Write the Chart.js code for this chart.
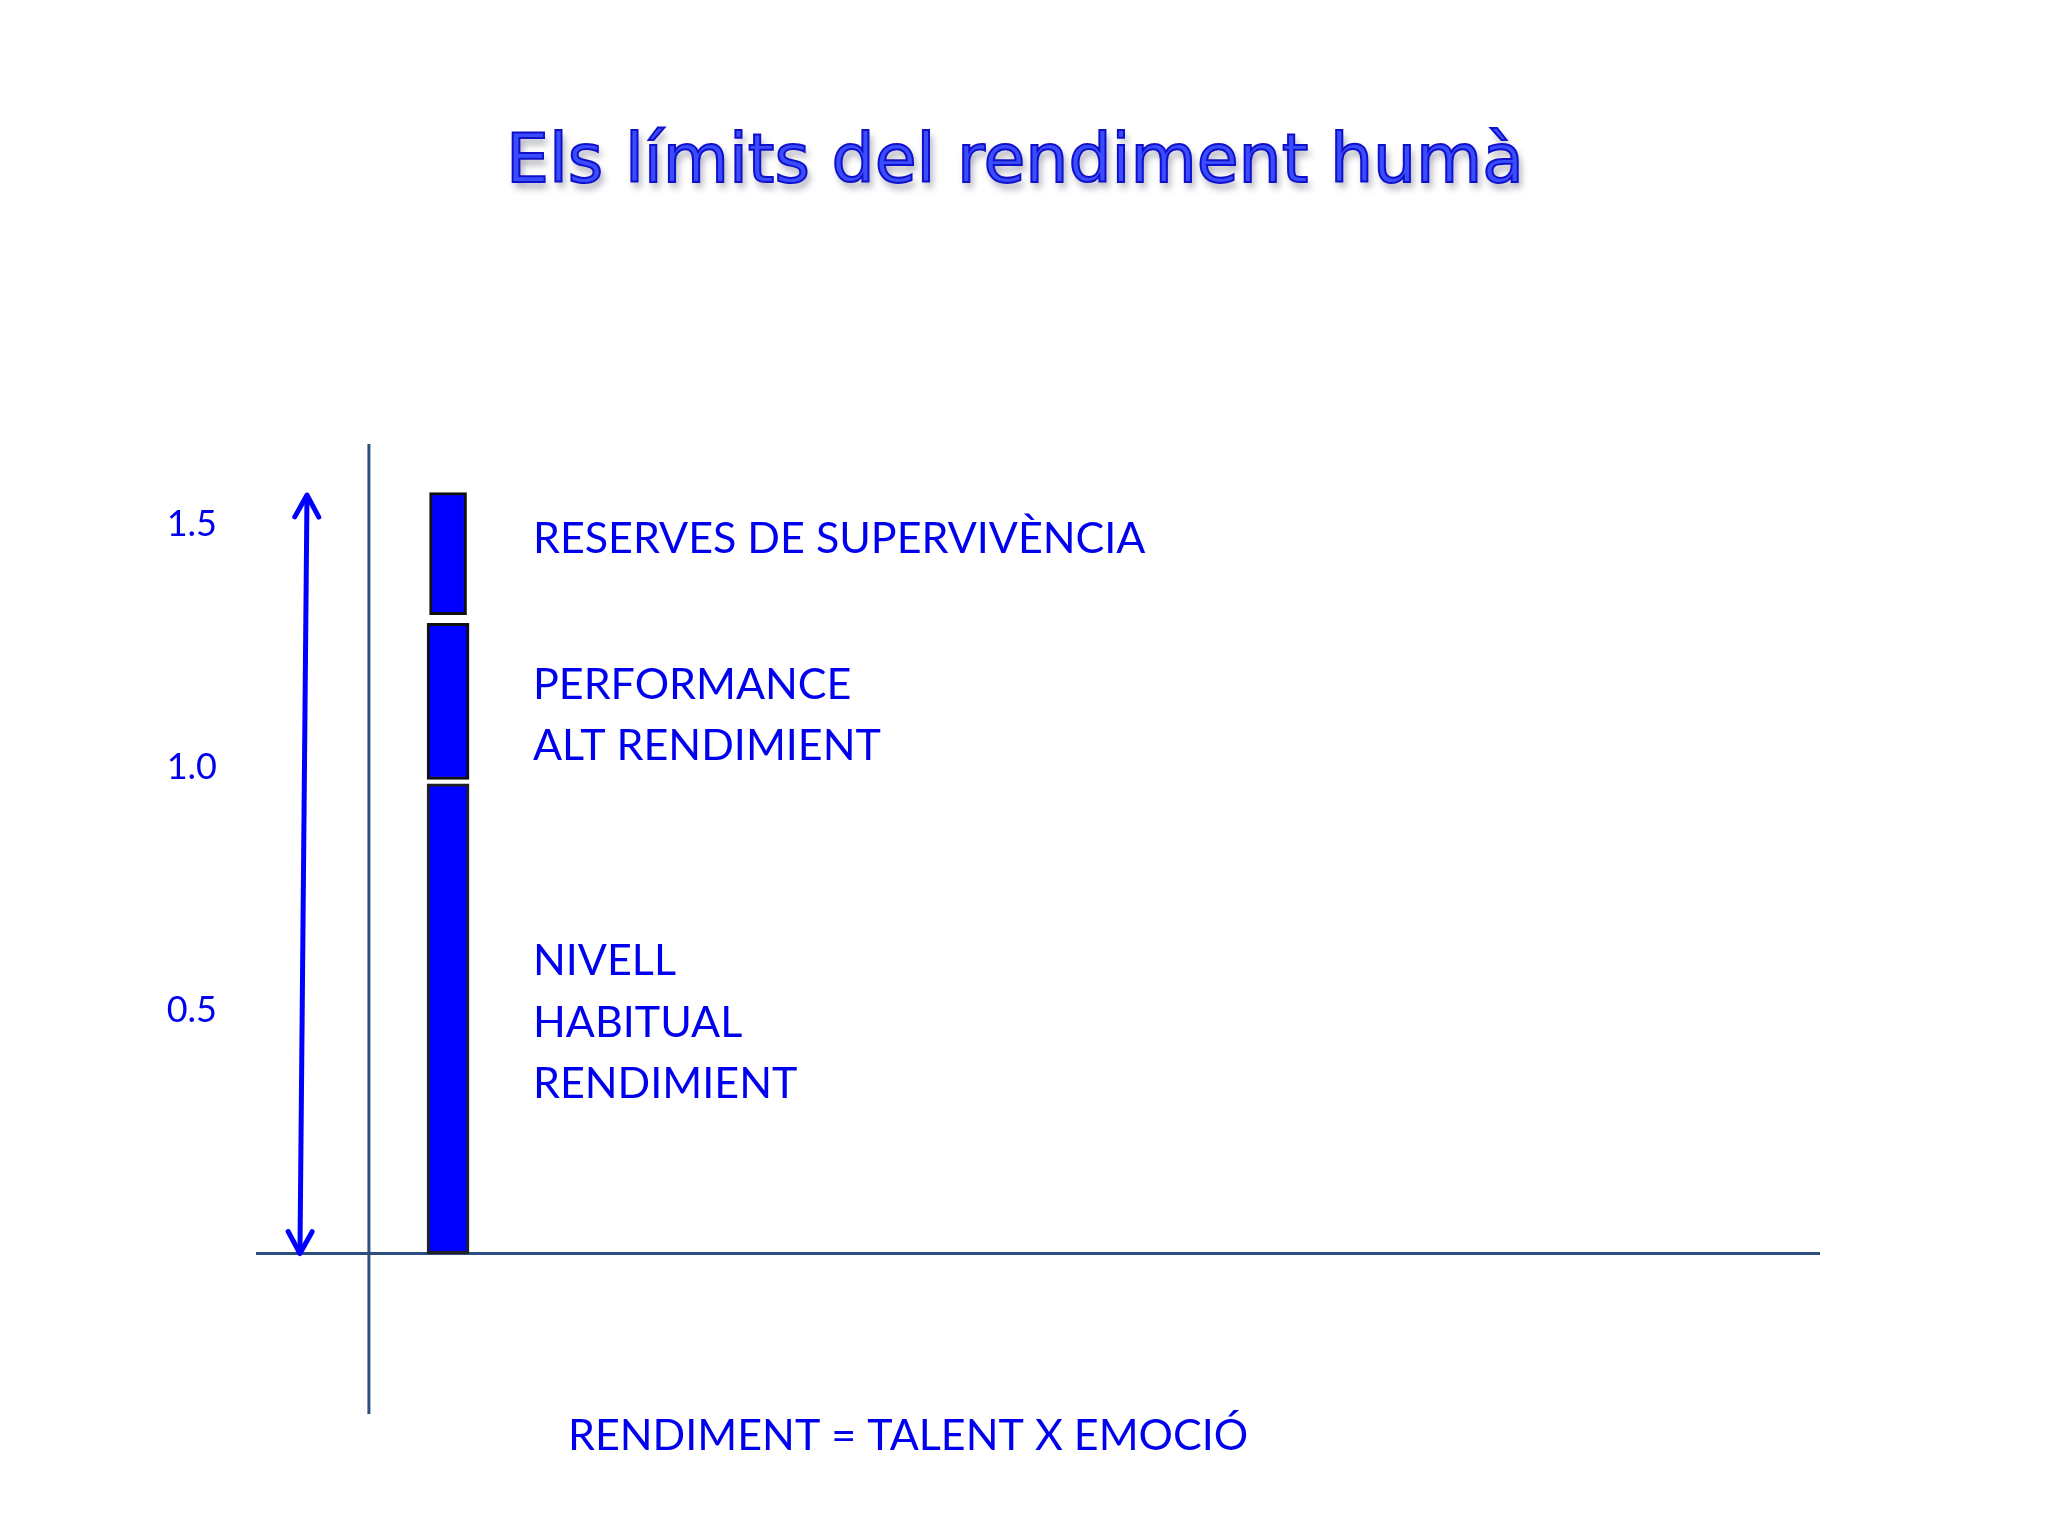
<!DOCTYPE html>
<html>
<head>
<meta charset="utf-8">
<title>Els límits del rendiment humà</title>
<script src="https://cdn.jsdelivr.net/npm/chart.js@4.4.1/dist/chart.umd.min.js"></script>
<style>
  html, body { margin: 0; padding: 0; background: #ffffff; }
  #wrap { width: 2048px; height: 1536px; position: relative; }
</style>
</head>
<body>
<div id="wrap"><canvas id="chart"></canvas></div>
<script>
// values
const tickValues = [0.5, 1.0, 1.5];
const tickLabels = ['0.5', '1.0', '1.5'];
const segmentLow = [0, 0.975, 1.314];
const segmentHigh = [0.966, 1.296, 1.565];
const segmentLines = [
    ['NIVELL', 'HABITUAL', 'RENDIMIENT'],
    ['PERFORMANCE', 'ALT RENDIMIENT'],
    ['RESERVES DE SUPERVIVÈNCIA']
];
const arrowX = [2.81, 3.26];
const arrowY = [0, 1.56];
const barX = 12.28;
const axisX = 7.22;
const titleText = 'Els límits del rendiment humà';
const formulaText = 'RENDIMENT = TALENT X EMOCIÓ';

const blue = '#0000ee';
const axisColor = '#2b4f7e';

const segmentStyles = [
    { thickness: 42, border: '#222222' },
    { thickness: 42, border: '#111111' },
    { thickness: 37, border: '#111111' }
];

const barSets = segmentLow.map((lo, i) => ({
    type: 'bar',
    label: segmentLines[i].join(' '),
    data: [{ x: barX, y: [lo, segmentHigh[i]] }],
    backgroundColor: '#0000ff',
    borderColor: segmentStyles[i].border,
    borderWidth: 3,
    borderSkipped: false,
    barThickness: segmentStyles[i].thickness,
    grouped: false,
    order: 2
}));

const arrowSet = {
    type: 'line',
    label: 'arrow',
    data: arrowX.map((x, i) => ({ x: x, y: arrowY[i] })),
    borderColor: '#0000ff',
    borderWidth: 5,
    pointRadius: 0,
    fill: false,
    order: 1
};

// axis cross lines, drawn under the bar
const axesPlugin = {
    id: 'axes',
    beforeDatasetsDraw(chart) {
        const { ctx, chartArea, scales } = chart;
        const x0 = scales.x.getPixelForValue(axisX);
        const y0 = scales.y.getPixelForValue(0);
        ctx.save();
        ctx.strokeStyle = axisColor;
        ctx.lineWidth = 3;
        ctx.beginPath();
        ctx.moveTo(x0, chartArea.top);
        ctx.lineTo(x0, chartArea.bottom);
        ctx.moveTo(chartArea.left, y0);
        ctx.lineTo(chartArea.right, y0);
        ctx.stroke();
        ctx.restore();
    }
};

// arrow heads at both ends of the line dataset
const arrowPlugin = {
    id: 'arrowHeads',
    afterDatasetsDraw(chart) {
        const idx = chart.data.datasets.indexOf(arrowSet);
        const pts = chart.getDatasetMeta(idx).data;
        if (pts.length < 2) return;
        const { ctx } = chart;
        ctx.save();
        ctx.strokeStyle = '#0000ff';
        ctx.lineWidth = 5;
        ctx.lineCap = 'round';
        ctx.lineJoin = 'round';
        const head = (tip, from) => {
            const a = Math.atan2(tip.y - from.y, tip.x - from.x);
            const len = 25, spread = 0.5;
            ctx.beginPath();
            ctx.moveTo(tip.x - len * Math.cos(a - spread), tip.y - len * Math.sin(a - spread));
            ctx.lineTo(tip.x, tip.y);
            ctx.lineTo(tip.x - len * Math.cos(a + spread), tip.y - len * Math.sin(a + spread));
            ctx.stroke();
        };
        head(pts[0], pts[1]);
        head(pts[1], pts[0]);
        ctx.restore();
    }
};

// title, segment captions and formula
const textPlugin = {
    id: 'slideText',
    afterDraw(chart) {
        const { ctx } = chart;
        ctx.save();
        ctx.font = '68px "DejaVu Sans"';
        ctx.textAlign = 'center';
        ctx.textBaseline = 'alphabetic';
        ctx.shadowColor = 'rgba(60, 60, 90, 0.45)';
        ctx.shadowOffsetX = 3;
        ctx.shadowOffsetY = 6;
        ctx.shadowBlur = 7;
        ctx.fillStyle = '#3a4cff';
        ctx.fillText(titleText, 1015, 182);
        ctx.shadowColor = 'transparent';
        ctx.lineWidth = 2;
        ctx.strokeStyle = '#1010c8';
        ctx.strokeText(titleText, 1015, 182);
        ctx.restore();

        ctx.save();
        ctx.fillStyle = blue;
        ctx.font = '43px Lato';
        ctx.textAlign = 'left';
        ctx.textBaseline = 'alphabetic';
        const baselines = [[975, 1037, 1098], [699, 760], [553]];
        segmentLines.forEach((lines, i) => {
            lines.forEach((t, j) => ctx.fillText(t, 533, baselines[i][j]));
        });
        ctx.fillText(formulaText, 568, 1450);
        ctx.restore();
    }
};

new Chart(document.getElementById('chart'), {
    data: { datasets: [...barSets, arrowSet] },
    options: {
        responsive: true,
        maintainAspectRatio: false,
        animation: false,
        layout: { padding: { top: 444, bottom: 122, right: 228, left: 0 } },
        plugins: { legend: { display: false }, tooltip: { enabled: false }, title: { display: false } },
        scales: {
            x: {
                type: 'linear',
                min: 0,
                max: 100,
                offset: false,
                display: false
            },
            y: {
                type: 'linear',
                min: -0.33,
                max: 1.665,
                grid: { display: false, drawTicks: false },
                border: { display: false },
                afterBuildTicks(scale) {
                    scale.ticks = tickValues.map(v => ({ value: v }));
                },
                afterFit(scale) {
                    scale.width = 256;
                },
                ticks: {
                    color: blue,
                    padding: 39,
                    font: { family: 'Lato', size: 36 },
                    callback: (v) => tickLabels[tickValues.indexOf(v)]
                }
            }
        }
    },
    plugins: [axesPlugin, arrowPlugin, textPlugin]
});
</script>
</body>
</html>
